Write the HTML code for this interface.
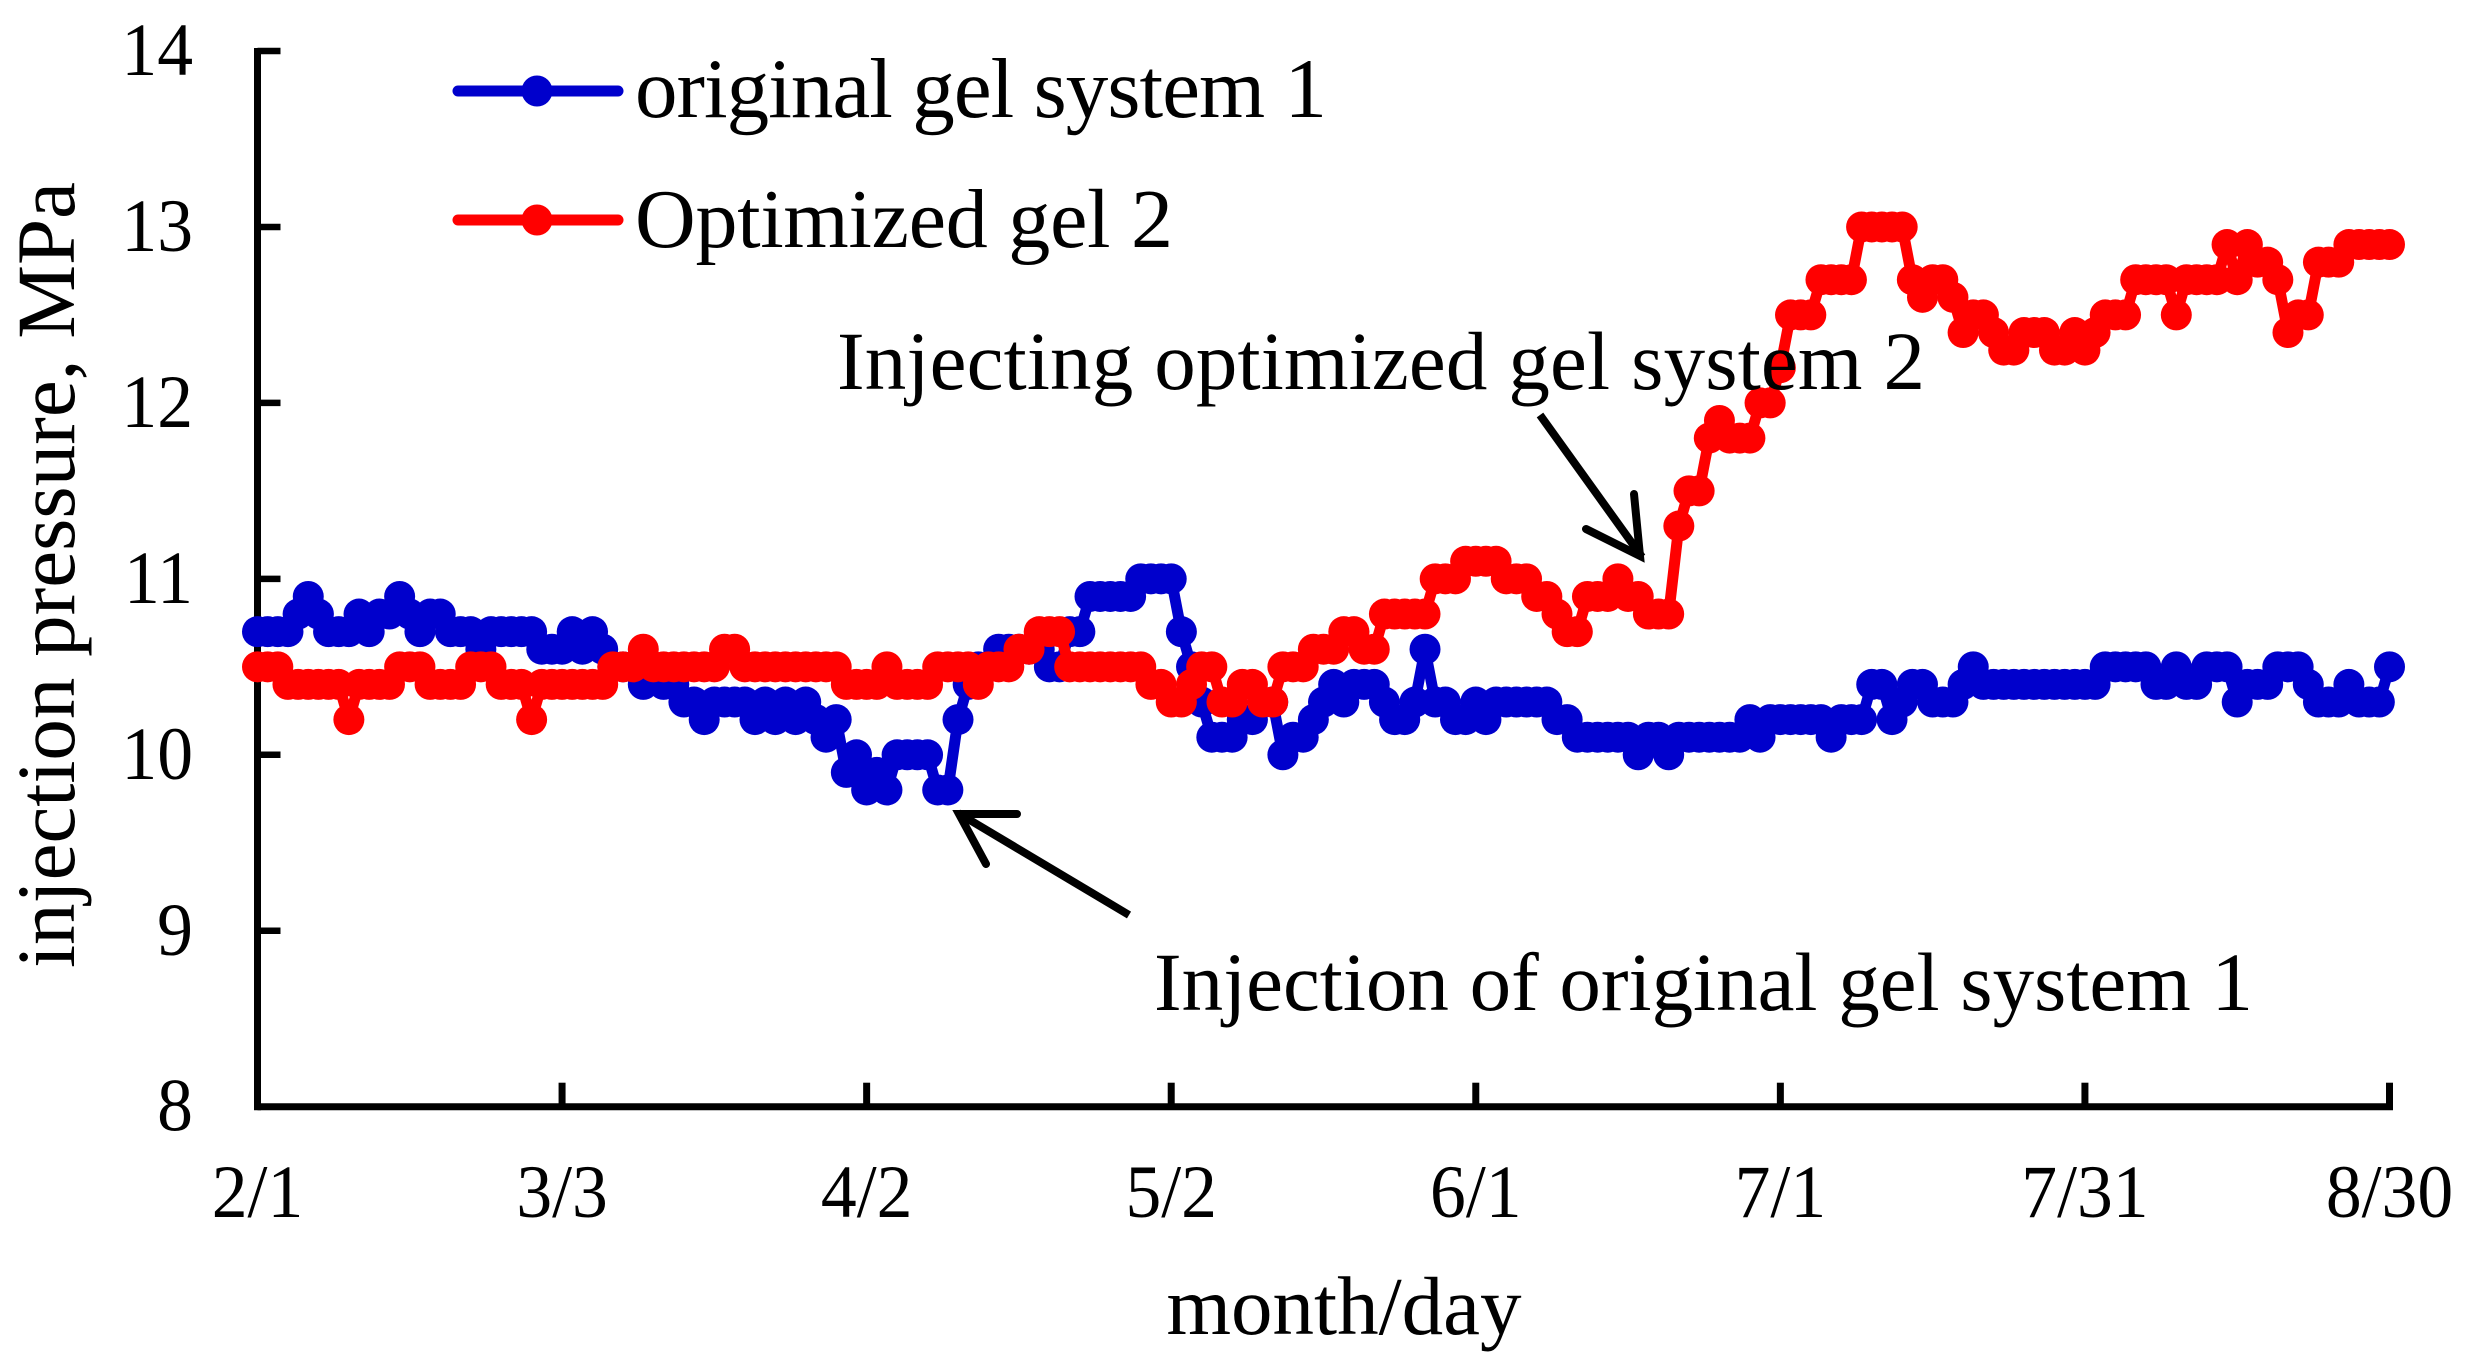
<!DOCTYPE html>
<html lang="en">
<head>
<meta charset="utf-8">
<title>Injection pressure chart</title>
<style>
html,body{margin:0;padding:0;background:#fff;}
svg{display:block;}
text{font-family:"Liberation Serif","Times New Roman",serif;fill:#000;}
</style>
</head>
<body>
<svg id="chart" xmlns="http://www.w3.org/2000/svg" width="2471" height="1369" viewBox="0 0 2471 1369">
  <rect x="0" y="0" width="2471" height="1369" fill="#fff"/>
  <g id="axes"></g>
  <g id="series"></g>
  <g id="legend">
    <g>
      <line x1="458" y1="91" x2="618" y2="91" stroke="#0000CC" stroke-width="11" stroke-linecap="round"/>
      <circle cx="537" cy="91" r="15.5" fill="#0000CC"/>
      <text x="635" y="117" font-size="85" textLength="692" lengthAdjust="spacing">original gel system 1</text>
    </g>
    <g>
      <line x1="458" y1="220" x2="618" y2="220" stroke="#FF0000" stroke-width="11" stroke-linecap="round"/>
      <circle cx="537" cy="220" r="15.5" fill="#FF0000"/>
      <text x="635" y="247" font-size="84" textLength="538" lengthAdjust="spacing">Optimized gel 2</text>
    </g>
  </g>
  <g id="annotations">
    <text x="837" y="389" font-size="83" textLength="1088" lengthAdjust="spacing">Injecting optimized gel system 2</text>
    <g fill="none" stroke="#000" stroke-width="8" stroke-linecap="round">
      <line x1="1540" y1="415" x2="1642" y2="557" stroke-linecap="butt"/>
      <polyline points="1634,494 1640,556 1586,529" stroke-linejoin="miter"/>
    </g>
    <text x="1154" y="1010" font-size="83" textLength="1099" lengthAdjust="spacing">Injection of original gel system 1</text>
    <g fill="none" stroke="#000" stroke-width="8" stroke-linecap="round">
      <line x1="1129" y1="915" x2="958" y2="813" stroke-linecap="butt"/>
      <polyline points="1017,814 959,814 986,864" stroke-linejoin="miter"/>
    </g>
  </g>
  <text x="1344" y="1334" font-size="83" text-anchor="middle">month/day</text>
  <text x="0" y="0" font-size="83" text-anchor="middle" transform="translate(74 575) rotate(-90)">injection pressure, MPa</text>
</svg>
<script>
const xTickLabels = ["2/1","3/3","4/2","5/2","6/1","7/1","7/31","8/30"];
const yTickValues = [8,9,10,11,12,13,14];
const originalGel = [
10.7,10.7,10.7,10.7,10.8,10.9,10.8,10.7,10.7,10.7,
10.8,10.7,10.8,10.8,10.9,10.8,10.7,10.8,10.8,10.7,
10.7,10.7,10.6,10.7,10.7,10.7,10.7,10.7,10.6,10.6,
10.6,10.7,10.6,10.7,10.6,10.5,10.5,10.5,10.4,10.5,
10.4,10.4,10.3,10.3,10.2,10.3,10.3,10.3,10.3,10.2,
10.3,10.2,10.3,10.2,10.3,10.2,10.1,10.2,9.9,10.0,
9.8,9.9,9.8,10.0,10.0,10.0,10.0,9.8,9.8,10.2,
10.4,10.5,10.5,10.6,10.6,10.6,10.6,10.6,10.5,10.5,
10.7,10.7,10.9,10.9,10.9,10.9,10.9,11.0,11.0,11.0,
11.0,10.7,10.5,10.3,10.1,10.1,10.1,10.2,10.2,10.3,
10.3,10.0,10.1,10.1,10.2,10.3,10.4,10.3,10.4,10.4,
10.4,10.3,10.2,10.2,10.3,10.6,10.3,10.3,10.2,10.2,
10.3,10.2,10.3,10.3,10.3,10.3,10.3,10.3,10.2,10.2,
10.1,10.1,10.1,10.1,10.1,10.1,10.0,10.1,10.1,10.0,
10.1,10.1,10.1,10.1,10.1,10.1,10.1,10.2,10.1,10.2,
10.2,10.2,10.2,10.2,10.2,10.1,10.2,10.2,10.2,10.4,
10.4,10.2,10.3,10.4,10.4,10.3,10.3,10.3,10.4,10.5,
10.4,10.4,10.4,10.4,10.4,10.4,10.4,10.4,10.4,10.4,
10.4,10.4,10.5,10.5,10.5,10.5,10.5,10.4,10.4,10.5,
10.4,10.4,10.5,10.5,10.5,10.3,10.4,10.4,10.4,10.5,
10.5,10.5,10.4,10.3,10.3,10.3,10.4,10.3,10.3,10.3,
10.5];
const optimizedGel = [
10.5,10.5,10.5,10.4,10.4,10.4,10.4,10.4,10.4,10.2,
10.4,10.4,10.4,10.4,10.5,10.5,10.5,10.4,10.4,10.4,
10.4,10.5,10.5,10.5,10.4,10.4,10.4,10.2,10.4,10.4,
10.4,10.4,10.4,10.4,10.4,10.5,10.5,10.5,10.6,10.5,
10.5,10.5,10.5,10.5,10.5,10.5,10.6,10.6,10.5,10.5,
10.5,10.5,10.5,10.5,10.5,10.5,10.5,10.5,10.4,10.4,
10.4,10.4,10.5,10.4,10.4,10.4,10.4,10.5,10.5,10.5,
10.5,10.4,10.5,10.5,10.5,10.6,10.6,10.7,10.7,10.7,
10.5,10.5,10.5,10.5,10.5,10.5,10.5,10.5,10.4,10.4,
10.3,10.3,10.4,10.5,10.5,10.3,10.3,10.4,10.4,10.3,
10.3,10.5,10.5,10.5,10.6,10.6,10.6,10.7,10.7,10.6,
10.6,10.8,10.8,10.8,10.8,10.8,11.0,11.0,11.0,11.1,
11.1,11.1,11.1,11.0,11.0,11.0,10.9,10.9,10.8,10.7,
10.7,10.9,10.9,10.9,11.0,10.9,10.9,10.8,10.8,10.8,
11.3,11.5,11.5,11.8,11.9,11.8,11.8,11.8,12.0,12.0,
12.2,12.5,12.5,12.5,12.7,12.7,12.7,12.7,13.0,13.0,
13.0,13.0,13.0,12.7,12.6,12.7,12.7,12.6,12.4,12.5,
12.5,12.4,12.3,12.3,12.4,12.4,12.4,12.3,12.3,12.4,
12.3,12.4,12.5,12.5,12.5,12.7,12.7,12.7,12.7,12.5,
12.7,12.7,12.7,12.7,12.9,12.7,12.9,12.8,12.8,12.7,
12.4,12.5,12.5,12.8,12.8,12.8,12.9,12.9,12.9,12.9,
12.9];

const NS = "http://www.w3.org/2000/svg";
const plotLeft = 257.5, plotRight = 2389.5, plotTop = 51, plotBottom = 1106.7;
const dayMin = 0, dayMax = 210, yMin = 8, yMax = 14, ticksEveryDays = 30;
const tickLabelSqueeze = 0.955;
function xScale(day){ return plotLeft + (day - dayMin) / (dayMax - dayMin) * (plotRight - plotLeft); }
function yScale(v){ return plotBottom - (v - yMin) / (yMax - yMin) * (plotBottom - plotTop); }
function make(tag, attrs, parent){
  const el = document.createElementNS(NS, tag);
  for (const k in attrs) el.setAttribute(k, attrs[k]);
  parent.appendChild(el);
  return el;
}
const axes = document.getElementById("axes");
const yAxisLine = make("line", {x1:plotLeft,y1:plotTop-3,x2:plotLeft,y2:plotBottom+3.5,stroke:"#000","stroke-width":7}, axes);


const xAxisLine = make("line", {x1:plotLeft,y1:plotBottom,x2:plotRight+3.5,y2:plotBottom,stroke:"#000","stroke-width":7}, axes);



yTickValues.forEach(function(v){
  const y = yScale(v);
  const tick = make("line", {x1:plotLeft,y1:y,x2:plotLeft+23,y2:y,stroke:"#000","stroke-width":6.5}, axes);
  
  
  const label = make("text", {x:0,y:0,"font-size":75,"text-anchor":"end",transform:"translate(193 " + (y+24) + ") scale(" + tickLabelSqueeze + " 1)"}, axes);
  
  
  label.textContent = String(v);
});
xTickLabels.forEach(function(t,i){
  const x = xScale(i * ticksEveryDays);
  const tick = make("line", {x1:x,y1:plotBottom,x2:x,y2:plotBottom-24,stroke:"#000","stroke-width":7}, axes);
  
  
  const label = make("text", {x:0,y:0,"font-size":75,"text-anchor":"middle",transform:"translate(" + x + " 1217) scale(" + tickLabelSqueeze + " 1)"}, axes);
  
  
  label.textContent = t;
});

function drawSeries(values, color, name){
  const group = make("g", {}, document.getElementById("series"));
  
  
  const pts = values.map(function(v,i){ return xScale(i).toFixed(2) + "," + yScale(v).toFixed(2); }).join(" ");
  const line = make("polyline", {points:pts,fill:"none",stroke:color,"stroke-width":11,"stroke-linejoin":"round"}, group);
  
  
  values.forEach(function(v,i){
    const dot = make("circle", {cx:xScale(i).toFixed(2),cy:yScale(v).toFixed(2),r:15.5,fill:color}, group);
    
    
  });
}
drawSeries(originalGel, "#0000CC", "original-gel");
drawSeries(optimizedGel, "#FF0000", "optimized-gel");
</script>
</body>
</html>
